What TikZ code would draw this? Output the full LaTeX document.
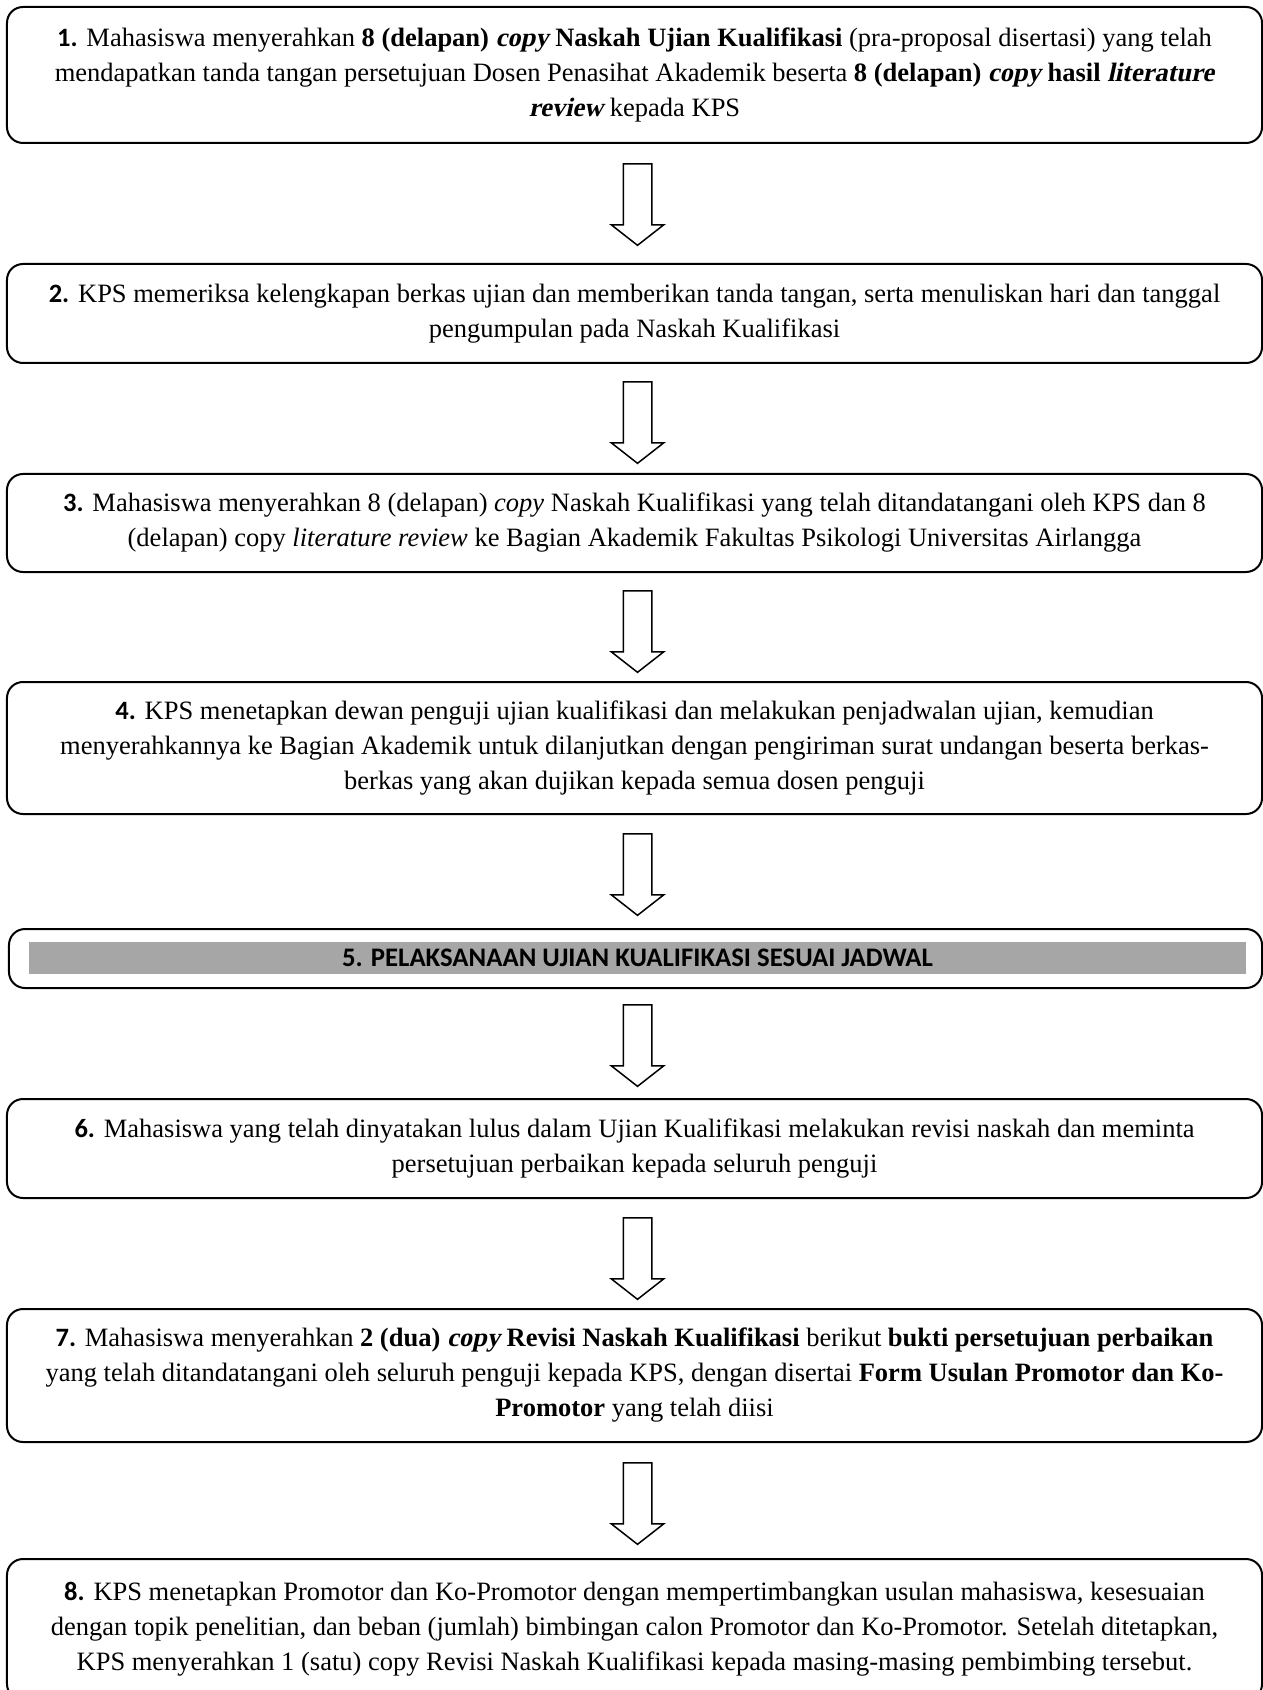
\documentclass[tikz,border=0pt]{standalone}
\usepackage{fontspec}
\setmainfont{Liberation Serif}[BoldFont={Liberation Serif Bold},ItalicFont={Liberation Serif Italic},BoldItalicFont={Liberation Serif Bold},BoldItalicFeatures={FakeSlant=0.21}]
\newfontfamily\numfont{Carlito}
\usetikzlibrary{shapes.arrows}

\tikzstyle{stepbox}=[draw,black,line width=0.8pt,rounded corners=6.4pt,minimum width=502pt,inner sep=0pt,align=center,font=\fontsize{10.6}{14}\selectfont]
\tikzstyle{downarrow}=[draw,black,line width=0.6pt,single arrow,shape border rotate=270,single arrow head extend=4.8pt,single arrow tip angle=104,minimum height=32.6pt,inner xsep=5.4pt,inner ysep=0pt]
\tikzstyle{graybar}=[fill=gray!70,minimum width=486.4pt,minimum height=12.8pt,inner sep=0pt,font=\numfont\bfseries\fontsize{10.7}{13}\selectfont]
\newcommand{\num}[1]{{\numfont\bfseries #1}}

\begin{document}
\begin{tikzpicture}[x=0.4pt,y=-0.4pt]
    \clip (0,0) rectangle (1263,1690);
    % steps
    \node (s1)[stepbox,minimum height=54.4pt] at (634.5,75) {\num{1.} Mahasiswa menyerahkan \textbf{8 (delapan) \textit{copy} Naskah Ujian Kualifikasi} (pra-proposal disertasi) yang telah\\ mendapatkan tanda tangan persetujuan Dosen Penasihat Akademik beserta \textbf{8 (delapan) \textit{copy} hasil \textit{literature}}\\ \textbf{\textit{review}} kepada KPS};
    \node (s2)[stepbox,minimum height=39.6pt] at (634.5,313.5) {\num{2.} KPS memeriksa kelengkapan berkas ujian dan memberikan tanda tangan, serta menuliskan hari dan tanggal\\ pengumpulan pada Naskah Kualifikasi};
    \node (s3)[stepbox,minimum height=39.2pt] at (634.5,523) {\num{3.} Mahasiswa menyerahkan 8 (delapan) \textit{copy} Naskah Kualifikasi yang telah ditandatangani oleh KPS dan 8\\ (delapan) copy \textit{literature review} ke Bagian Akademik Fakultas Psikologi Universitas Airlangga};
    \node (s4)[stepbox,minimum height=52.8pt] at (634.5,748) {\num{4.} KPS menetapkan dewan penguji ujian kualifikasi dan melakukan penjadwalan ujian, kemudian\\ menyerahkannya ke Bagian Akademik untuk dilanjutkan dengan pengiriman surat undangan beserta berkas-\\ berkas yang akan dujikan kepada semua dosen penguji};
    \node (s5)[stepbox,minimum width=501.2pt,minimum height=23.6pt] at (635.5,958.5) {};
    \node (s5bar)[graybar] at (637.5,958) {5. PELAKSANAAN UJIAN KUALIFIKASI SESUAI JADWAL};
    \node (s6)[stepbox,minimum height=39.6pt] at (634.5,1148.5) {\num{6.} Mahasiswa yang telah dinyatakan lulus dalam Ujian Kualifikasi melakukan revisi naskah dan meminta\\ persetujuan perbaikan kepada seluruh penguji};
    \node (s7)[stepbox,minimum height=53.2pt] at (634.5,1375.5) {\num{7.} Mahasiswa menyerahkan \textbf{2 (dua) \textit{copy} Revisi Naskah Kualifikasi} berikut \textbf{bukti persetujuan perbaikan}\\ yang telah ditandatangani oleh seluruh penguji kepada KPS, dengan disertai \textbf{Form Usulan Promotor dan Ko-}\\ \textbf{Promotor} yang telah diisi};
    \node (s8)[stepbox,minimum height=56.4pt] at (634.5,1629.5) {\num{8.} KPS menetapkan Promotor dan Ko-Promotor dengan mempertimbangkan usulan mahasiswa, kesesuaian\\ dengan topik penelitian, dan beban (jumlah) bimbingan calon Promotor dan Ko-Promotor. Setelah ditetapkan,\\ KPS menyerahkan 1 (satu) copy Revisi Naskah Kualifikasi kepada masing-masing pembimbing tersebut.};
    % arrows between the steps
    \node (a1)[downarrow] at (637.5,199) {};
    \node (a2)[downarrow] at (637.5,417) {};
    \node (a3)[downarrow] at (637.5,626) {};
    \node (a4)[downarrow] at (637.5,869) {};
    \node (a5)[downarrow] at (637.5,1040) {};
    \node (a6)[downarrow] at (637.5,1253) {};
    \node (a7)[downarrow] at (637.5,1498) {};
\end{tikzpicture}
\end{document}
